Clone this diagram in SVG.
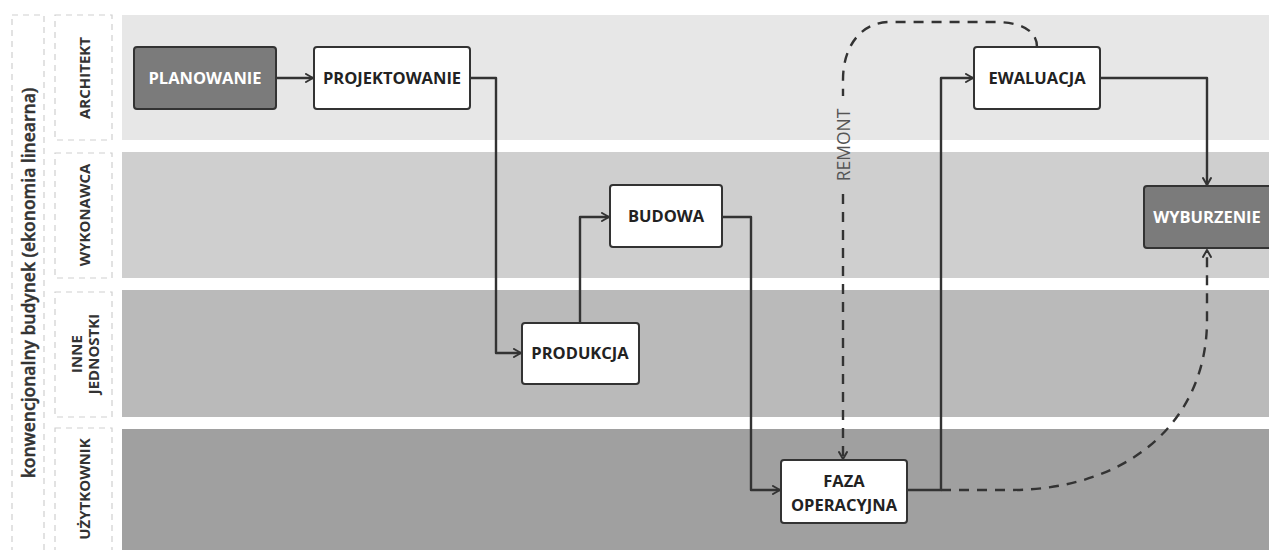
<svg xmlns="http://www.w3.org/2000/svg" width="1269" height="550" viewBox="0 0 1269 550">
  <style>
    .lane-label { font-family: "Open Sans", "Liberation Sans", sans-serif; font-weight: 700; font-size: 15px; fill: #333; text-anchor: middle; }
    .frame { fill: none; stroke: #cfcfcf; stroke-width: 1.2; stroke-dasharray: 6 5; }
    .node rect { stroke: #333; stroke-width: 2; }
    .box-light { fill: #ffffff; }
    .box-dark { fill: #7b7b7b; }
    .node text { font-family: "Open Sans", "Liberation Sans", sans-serif; font-weight: 700; font-size: 16.5px; text-anchor: middle; }
    .t-dark { fill: #222; }
    .t-light { fill: #ffffff; }
    .flow { fill: none; stroke: #333; stroke-width: 2.4; stroke-linejoin: round; }
    .dashed { fill: none; stroke: #333; stroke-width: 2.4; stroke-dasharray: 10 8; }
  </style>
  <defs>
    <marker id="arrow" viewBox="0 0 10 10" refX="9" refY="5" markerWidth="10" markerHeight="10" markerUnits="userSpaceOnUse" orient="auto">
      <path d="M2,1 L9,5 L2,9" fill="none" stroke="#333" stroke-width="2" stroke-linejoin="round" stroke-linecap="round"/>
    </marker>
  </defs>

  <rect width="1269" height="550" fill="#ffffff"/>

  <!-- swimlanes -->
  <g id="lanes">
    <rect x="122" y="15" width="1147" height="125" fill="#e7e7e7"/>
    <rect x="122" y="152" width="1147" height="126" fill="#cfcfcf"/>
    <rect x="122" y="290" width="1147" height="127" fill="#bababa"/>
    <rect x="122" y="429" width="1147" height="121" fill="#a0a0a0"/>
  </g>

  <!-- lane headers -->
  <g id="headers">
    <rect class="frame" x="12" y="15" width="32" height="545"/>
    <text x="35" y="283" transform="rotate(-90 35 283)" style="font-family:'Open Sans','Liberation Sans',sans-serif;font-weight:600;font-size:17.5px;fill:#333;stroke:#333;stroke-width:0.45;text-anchor:middle">konwencjonalny budynek (ekonomia linearna)</text>

    <rect class="frame" x="55" y="15" width="57" height="125"/>
    <text class="lane-label" x="90" y="78" transform="rotate(-90 90 78)">ARCHITEKT</text>

    <rect class="frame" x="55" y="153" width="57" height="125"/>
    <text class="lane-label" x="90" y="215" transform="rotate(-90 90 215)">WYKONAWCA</text>

    <rect class="frame" x="55" y="292" width="57" height="125"/>
    <text class="lane-label" x="82" y="354" transform="rotate(-90 82 354)">INNE</text>
    <text class="lane-label" x="99" y="354" transform="rotate(-90 99 354)">JEDNOSTKI</text>

    <rect class="frame" x="55" y="428" width="57" height="132"/>
    <text class="lane-label" x="90" y="489" transform="rotate(-90 90 489)">UŻYTKOWNIK</text>
  </g>

  <!-- connectors -->
  <g id="connectors">
    <path class="flow" d="M276,78 L313,78" marker-end="url(#arrow)"/>
    <path class="flow" d="M470,78 L496,78 L496,353 L521,353" marker-end="url(#arrow)"/>
    <path class="flow" d="M580,323 L580,217 L609,217" marker-end="url(#arrow)"/>
    <path class="flow" d="M722,217 L751,217 L751,490 L780,490" marker-end="url(#arrow)"/>
    <path class="flow" d="M907,490 L941,490 L941,78 L973,78" marker-end="url(#arrow)"/>
    <path class="flow" d="M1100,78 L1207,78 L1207,185" marker-end="url(#arrow)"/>
    <path class="dashed" d="M941,490 L1010,490 C1130,490 1207,420 1207,320 L1207,250" marker-end="url(#arrow)"/>
    <path class="dashed" d="M1037,47 C1037,30 1020,22 995,22 L890,22 C862,22 843,45 843,80 L843,96"/>
    <path class="dashed" d="M843,194 L843,459" marker-end="url(#arrow)"/>
    <text x="850" y="145" transform="rotate(-90 850 145)" style="font-family:'Open Sans','Liberation Sans',sans-serif;font-size:17.5px;fill:#555;text-anchor:middle">REMONT</text>
  </g>

  <!-- process nodes -->
  <g id="planowanie" class="node">
    <rect class="box-dark" x="134" y="47" width="142" height="62" rx="3"/>
    <text class="t-light" x="205" y="84">PLANOWANIE</text>
  </g>
  <g id="projektowanie" class="node">
    <rect class="box-light" x="314" y="47" width="156" height="62" rx="3"/>
    <text class="t-dark" x="392" y="84">PROJEKTOWANIE</text>
  </g>
  <g id="budowa" class="node">
    <rect class="box-light" x="610" y="185" width="112" height="62" rx="3"/>
    <text class="t-dark" x="666" y="222">BUDOWA</text>
  </g>
  <g id="produkcja" class="node">
    <rect class="box-light" x="522" y="323" width="117" height="61" rx="3"/>
    <text class="t-dark" x="580" y="359">PRODUKCJA</text>
  </g>
  <g id="faza-operacyjna" class="node">
    <rect class="box-light" x="781" y="460" width="126" height="63" rx="3"/>
    <text class="t-dark" x="844" y="487">FAZA</text>
    <text class="t-dark" x="844" y="511">OPERACYJNA</text>
  </g>
  <g id="ewaluacja" class="node">
    <rect class="box-light" x="974" y="47" width="126" height="62" rx="3"/>
    <text class="t-dark" x="1037" y="84">EWALUACJA</text>
  </g>
  <g id="wyburzenie" class="node">
    <rect class="box-dark" x="1144" y="186" width="130" height="62" rx="3"/>
    <text class="t-light" x="1207" y="223">WYBURZENIE</text>
  </g>
</svg>
